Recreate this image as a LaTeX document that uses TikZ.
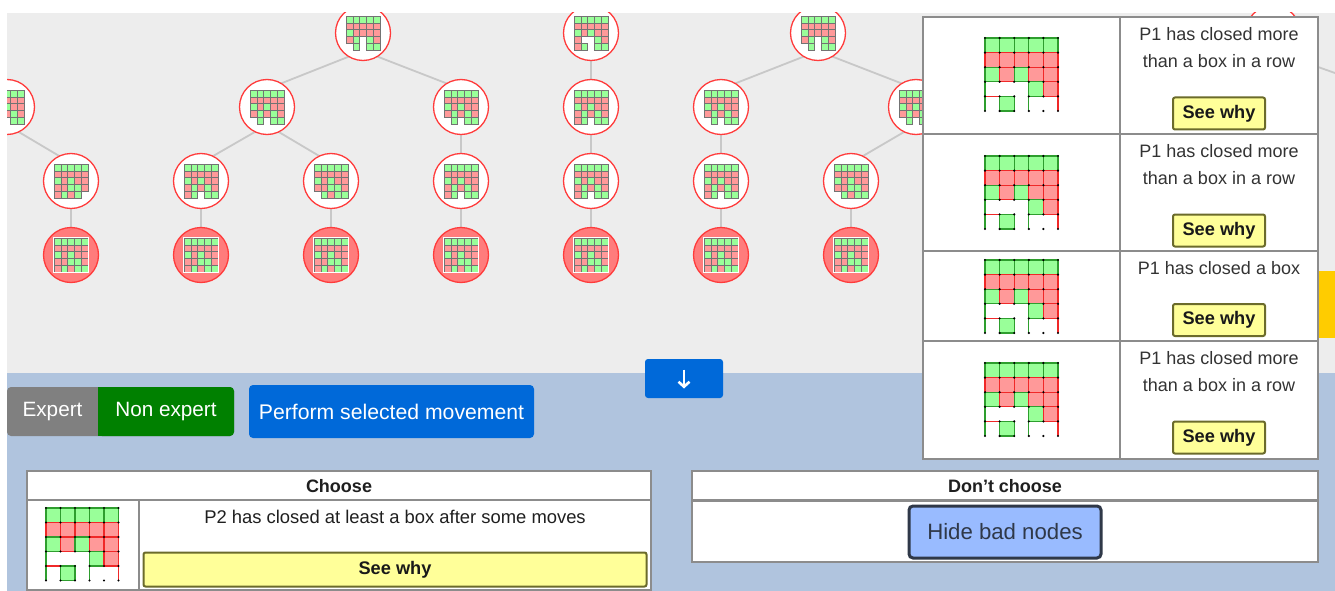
\documentclass[tikz,border=0pt]{standalone}
\usepackage{fontspec}
\setmainfont{Liberation Sans}
\usetikzlibrary{arrows.meta}
\definecolor{G}{HTML}{99FF99}
\definecolor{R}{HTML}{FF9999}
\definecolor{W}{HTML}{FFFFFF}
\definecolor{Gx}{HTML}{2E9E2E}
\definecolor{Rx}{HTML}{F02828}
\definecolor{treebg}{HTML}{EDEDED}
\definecolor{lowbg}{HTML}{B0C4DE}
\definecolor{edgec}{HTML}{C8C8C8}
\definecolor{nodered}{HTML}{FF3B3B}
\definecolor{leaffill}{HTML}{FF7C7C}
\definecolor{seeyel}{HTML}{FFFF99}
\definecolor{seebrd}{HTML}{6B6B2B}
\definecolor{panelbrd}{HTML}{8C8C8C}
\definecolor{txt}{HTML}{333333}
\definecolor{expgray}{HTML}{808080}
\definecolor{expgreen}{HTML}{008000}
\definecolor{btnblue}{HTML}{0069D9}
\definecolor{hidefill}{HTML}{99BBFF}
\definecolor{hidebrd}{HTML}{2F3848}
\definecolor{goldtab}{HTML}{FFCC00}
\pgfdeclarelayer{back}
\pgfdeclarelayer{edges}
\pgfsetlayers{back,edges,main}
\def\Wstr{W}
% #1 top-left shift, #2 cell size, #3 list macro, #4 mode (0 tree, 1 panel)
\newcommand{\gameboard}[4]{%
 \begin{scope}[shift={(#1)}, x=#2pt, y=-#2pt]
  \foreach \cellc [count=\i from 0] in #3 {%
   \pgfmathtruncatemacro\bc{mod(\i,5)}%
   \pgfmathtruncatemacro\br{div(\i,5)}%
   \ifx\cellc\Wstr\else
    \ifnum#4=0
     \filldraw[fill=\cellc, draw=black!55, line width=0.35pt] (\bc,\br) rectangle ++(1,1);
    \else
     \filldraw[fill=\cellc, draw=\cellc x, line width=1.1pt] (\bc,\br) rectangle ++(1,1);
    \fi
   \fi
  }
  \ifnum#4=1
   \draw[Gx, line width=1.1pt] (0,3) -- (0,5) (3,4) -- (3,5);
   \draw[Rx, line width=1.1pt] (0,4) -- (1,4) (5,4) -- (5,5);
   \foreach \a in {0,...,5} \foreach \b in {0,...,5} \fill (\a,\b) circle (1.2pt);
  \fi
 \end{scope}}
\newcommand{\tboard}[2]{\begin{scope}[shift={(#1.center)}]\gameboard{-17,-17}{6.8}{#2}{0}\end{scope}}
\newcommand{\lboard}[2]{\begin{scope}[shift={(#1.center)}]\gameboard{-17,-17}{6.8}{#2}{0}\draw[white,line width=1.2pt] (-17.6,-17.6) rectangle (17.6,17.6);\end{scope}}
\def\pA{G,G,G,G,G,R,R,R,R,R,G,R,R,R,R,R,G,W,G,R,W,G,W,G,G}
\def\pB{G,G,G,G,G,R,R,R,R,R,G,R,G,R,R,R,W,W,G,R,R,G,W,G,G}
\def\pC{G,G,G,G,G,R,R,R,R,R,G,R,G,R,R,R,G,R,G,R,W,G,W,G,G}
\def\pD{G,G,G,G,G,R,R,R,R,R,G,R,G,R,R,R,R,G,G,R,W,G,R,G,G}
\def\pE{G,G,G,G,G,R,R,R,R,R,G,R,G,R,R,R,G,R,G,R,R,G,W,G,G}
\def\pG{G,G,G,G,G,R,R,R,R,R,G,R,G,R,R,R,R,G,G,R,R,G,R,G,W}
\def\pF{G,G,G,G,G,R,R,R,R,R,G,R,G,R,R,R,R,G,G,R,R,G,R,G,G}
\def\pP{G,G,G,G,G,R,R,R,R,R,G,R,G,R,R,W,W,W,G,R,W,G,W,W,W}
\tikzset{
 tnode/.style={circle, draw=nodered, fill=white, line width=1.3pt, minimum size=55pt, inner sep=0pt},
 tleaf/.style={tnode, fill=leaffill},
 tedge/.style={draw=edgec, line width=1.8pt},
 seewhy/.style={draw=seebrd, fill=seeyel, line width=2pt, rounded corners=2pt, font=\bfseries\fontsize{18.2}{20}\selectfont, text=black!90, inner sep=0pt},
 ptext/.style={text=txt, font=\fontsize{18}{27}\selectfont, align=center, inner sep=0pt},
 btext/.style={text=white, font=\fontsize{20.7}{24}\selectfont, inner sep=0pt},
 cline/.style={draw=panelbrd, line width=1.6pt},
 htext/.style={text=black!88, font=\bfseries\fontsize{18}{20}\selectfont, inner sep=0pt},
}
\begin{document}
\begin{tikzpicture}[x=1pt,y=-1pt]
\useasboundingbox (0,0) rectangle (1335,591);
\begin{pgfonlayer}{back}
 \fill[white] (0,0) rectangle (1335,591);
 \fill[treebg] (7,13) rectangle (1335,373);
 \fill[lowbg] (7,373) rectangle (1335,591);
\end{pgfonlayer}
% ---------- tree ----------
\begin{scope}
 \clip (7,13) rectangle (1335,373);
 \node[tnode] (r1) at (363,33) {};
 \node[tnode] (r2) at (591,33) {};
 \node[tnode] (r3) at (818,33) {};
 \node[tnode] (r4) at (1273,33) {};
 \node[tnode] (a0) at (7,107) {};
 \node[tnode] (a1) at (267,107) {};
 \node[tnode] (a2) at (461,107) {};
 \node[tnode] (a3) at (591,107) {};
 \node[tnode] (a4) at (721,107) {};
 \node[tnode] (a5) at (916,107) {};
 \node[tnode] (a6) at (1380,107) {};
 \foreach \n/\x in {1/71,2/201,3/331,4/461,5/591,6/721,7/851} {
  \node[tnode] (b\n) at (\x,181) {};
  \node[tleaf] (c\n) at (\x,255) {};
 }
 \tboard{r1}{\pA} \tboard{r2}{\pB} \tboard{r3}{\pA} \tboard{r4}{\pA}
 \tboard{a0}{\pC} \tboard{a1}{\pC} \tboard{a2}{\pC} \tboard{a3}{\pE} \tboard{a4}{\pC} \tboard{a5}{\pC}
 \tboard{b1}{\pG} \tboard{b2}{\pE} \tboard{b3}{\pD} \tboard{b4}{\pE} \tboard{b5}{\pE} \tboard{b6}{\pE} \tboard{b7}{\pD}
 \foreach \n in {1,...,7} {\lboard{c\n}{\pF}}
\end{scope}
\begin{pgfonlayer}{edges}
 \begin{scope}
  \clip (7,13) rectangle (1335,373);
  \foreach \p/\c in {r1/a1,r1/a2,r2/a3,r3/a4,r3/a5,r4/a6,a0/b1,a1/b2,a1/b3,a2/b4,a3/b5,a4/b6,a5/b7,b1/c1,b2/c2,b3/c3,b4/c4,b5/c5,b6/c6,b7/c7}
   \draw[tedge] ([yshift=-18pt]\p.center) -- ([yshift=18pt]\c.center);
 \end{scope}
\end{pgfonlayer}
% gold tab at the right edge
\fill[goldtab] (1300,271) rectangle (1335,338);
% ---------- right panel ----------
\fill[white] (923,17) rectangle (1318,459);
\draw[cline] (923,17) rectangle (1318,459);
\draw[cline] (1120,17) -- (1120,459);
\draw[cline] (923,134) -- (1318,134) (923,251) -- (1318,251) (923,341) -- (1318,341);
\gameboard{985,38}{14.6}{\pP}{1}
\gameboard{985,156}{14.6}{\pP}{1}
\gameboard{985,260}{14.6}{\pP}{1}
\gameboard{985,363}{14.6}{\pP}{1}
\node[ptext] (t1) at (1219,47.8) {P1 has closed more\\than a box in a row};
\node[ptext] (t2) at (1219,164.8) {P1 has closed more\\than a box in a row};
\node[ptext] (t3) at (1219,268.5) {P1 has closed a box};
\node[ptext] (t4) at (1219,371.8) {P1 has closed more\\than a box in a row};
\node[seewhy, minimum width=92pt, minimum height=32pt] (s1) at (1219,113.5) {See why};
\node[seewhy, minimum width=92pt, minimum height=32pt] (s2) at (1219,230.5) {See why};
\node[seewhy, minimum width=92pt, minimum height=32pt] (s3) at (1219,320) {See why};
\node[seewhy, minimum width=92pt, minimum height=32pt] (s4) at (1219,437.5) {See why};
% ---------- buttons ----------
\fill[expgray, rounded corners=4pt] (7,387) rectangle (234,436);
\fill[expgreen, rounded corners=4pt] (98,387) rectangle (234,436);
\fill[expgreen] (98,387) rectangle (106,436);
\node[btext] (expert) at (52.5,411.5) {Expert};
\node[btext] (nonexpert) at (166,411.5) {Non expert};
\fill[btnblue, rounded corners=4pt] (249,385) rectangle (534,438);
\node[btext, font=\fontsize{21.2}{24}\selectfont] (perform) at (391.5,411.5) {Perform selected movement};
\node[fill=btnblue, rounded corners=3pt, minimum width=78pt, minimum height=39pt, inner sep=0pt] (down) at (684,378.5) {};
\draw[white, line width=2.6pt, -{Straight Barb[length=5pt, width=11pt]}] ([yshift=9pt]down.center) -- ([yshift=-10pt]down.center);
% ---------- Choose panel ----------
\fill[white] (27,471) rectangle (651,590);
\draw[cline, line width=1.4pt] (27,471) rectangle (651,590);
\draw[cline, line width=2.2pt] (27,500) -- (651,500);
\draw[cline, line width=1.4pt] (139,500) -- (139,590);
\node[htext] (choose) at (339,486) {Choose};
\gameboard{46,508}{14.5}{\pP}{1}
\node[text=black!88, font=\fontsize{18.4}{20}\selectfont, inner sep=0pt] (p2) at (395,516.5) {P2 has closed at least a box after some moves};
\node[seewhy, minimum width=503pt, minimum height=34pt] (s5) at (395,569.5) {See why};
% ---------- Don't choose panel ----------
\fill[white] (692,471) rectangle (1318,562);
\draw[cline, line width=1.4pt] (692,471) rectangle (1318,562);
\draw[cline, line width=2.2pt] (692,500.5) -- (1318,500.5);
\node[htext] (dont) at (1005,486) {Don’t choose};
\node[draw=hidebrd, fill=hidefill, line width=3pt, rounded corners=4pt, minimum width=192pt, minimum height=52pt, inner sep=0pt, text=hidebrd, font=\fontsize{22.2}{24}\selectfont] (hide) at (1005,532) {Hide bad nodes};
\end{tikzpicture}
\end{document}
